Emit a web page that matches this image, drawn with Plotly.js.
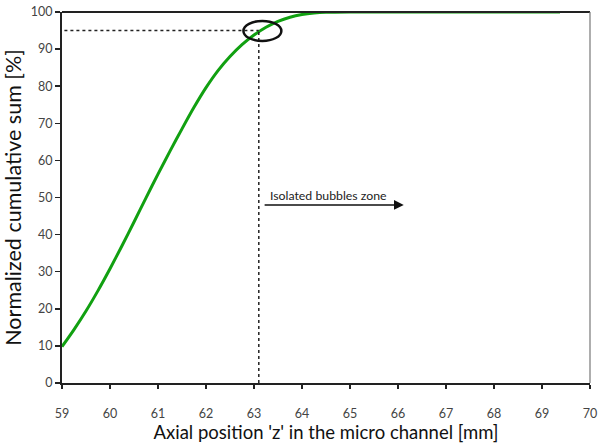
<!DOCTYPE html>
<html>
<head>
<meta charset="utf-8">
<script src="https://cdn.plot.ly/plotly-3.0.1.min.js"></script>
<style>html,body{margin:0;padding:0;background:#fff;}#chart{width:598px;height:445px;}</style>
</head>
<body>
<div id="chart"></div>
<script>
// Axial position z [mm]
const positionZ = [59.0, 59.25, 59.5, 59.75, 60.0, 60.25, 60.5, 60.75, 61.0, 61.25, 61.5, 61.75, 62.0, 62.25, 62.5, 62.75, 63.0, 63.25, 63.5, 63.75, 64.0, 64.25, 64.5, 65.0, 66.0, 67.0, 68.0, 69.0, 69.375];
// Normalized cumulative sum [%]
const cumulativeSum = [9.8, 14.4, 19.4, 24.9, 30.8, 37.0, 43.4, 49.9, 56.3, 62.5, 68.5, 74.3, 79.6, 84.2, 88.0, 91.2, 93.8, 95.9, 97.5, 98.6, 99.3, 99.7, 99.9, 100, 100, 100, 100, 100, 100];
const xTicks = [59, 60, 61, 62, 63, 64, 65, 66, 67, 68, 69, 70];
const yTicks = [0, 10, 20, 30, 40, 50, 60, 70, 80, 90, 100];
const threshold = {z: 63.1, pct: 95};
const zoneLabel = "Isolated bubbles zone";

const fontFam = "Lato, 'Open Sans', sans-serif";

const trace = {
  x: positionZ, y: cumulativeSum, type: 'scatter', mode: 'lines',
  line: {color: '#11a011', width: 3, shape: 'spline', smoothing: 0.8},
  hoverinfo: 'skip'
};

const layout = {
  width: 598, height: 445,
  margin: {l: 62, r: 8, t: 12, b: 62},
  paper_bgcolor: '#fff', plot_bgcolor: '#fff',
  showlegend: false,
  font: {family: fontFam, color: '#333'},
  xaxis: {
    range: [59, 70], tickvals: xTicks, ticktext: xTicks.map(String),
    showgrid: false, zeroline: false, showline: true, linecolor: '#222', linewidth: 2,
    ticks: 'outside', ticklen: 4, tickwidth: 1.5, tickcolor: '#222',
    tickfont: {size: 12.5, color: '#444', family: fontFam},
    ticklabelstandoff: 14,
    title: {text: "Axial position 'z' in the micro channel [mm]", font: {size: 18.5, color: '#111', family: fontFam}, standoff: 5}
  },
  yaxis: {
    range: [0, 100], tickvals: yTicks, ticktext: yTicks.map(String),
    showgrid: false, zeroline: false, showline: true, linecolor: '#222', linewidth: 2,
    ticks: 'outside', ticklen: 5, tickwidth: 1.5, tickcolor: '#222',
    tickfont: {size: 12.5, color: '#444', family: fontFam},
    title: {text: "Normalized cumulative sum [%]", font: {size: 21.5, color: '#111', family: fontFam}, standoff: 8}
  },
  shapes: [
    {type: 'line', xref: 'paper', yref: 'paper', x0: 0, x1: 1, y0: 1, y1: 1, line: {color: '#222', width: 2}},
    {type: 'line', xref: 'paper', yref: 'paper', x0: 1, x1: 1, y0: 0, y1: 1, line: {color: '#777', width: 1.2}},
    {type: 'line', xref: 'x', yref: 'y', x0: 59.05, x1: threshold.z, y0: threshold.pct, y1: threshold.pct, line: {color: '#222', width: 1.5, dash: 'dot'}},
    {type: 'line', xref: 'x', yref: 'y', x0: threshold.z, x1: threshold.z, y0: 0, y1: threshold.pct, line: {color: '#222', width: 1.5, dash: 'dot'}},
    {type: 'circle', xref: 'x', yref: 'y', x0: 62.78, x1: 63.57, y0: 92.2, y1: 97.6, line: {color: '#111', width: 2.5}}
  ],
  annotations: [
    {x: 66.12, y: 48.0, ax: 63.19, ay: 48.0, xref: 'x', yref: 'y', axref: 'x', ayref: 'y',
     text: '', showarrow: true, arrowhead: 2, arrowsize: 1.3, arrowwidth: 1.5, arrowcolor: '#111'},
    {x: 64.56, y: 50.6, xref: 'x', yref: 'y', text: zoneLabel, showarrow: false,
     font: {size: 12.3, color: '#222', family: fontFam}}
  ]
};

Plotly.newPlot('chart', [trace], layout, {displayModeBar: false, staticPlot: true});
</script>
</body>
</html>
